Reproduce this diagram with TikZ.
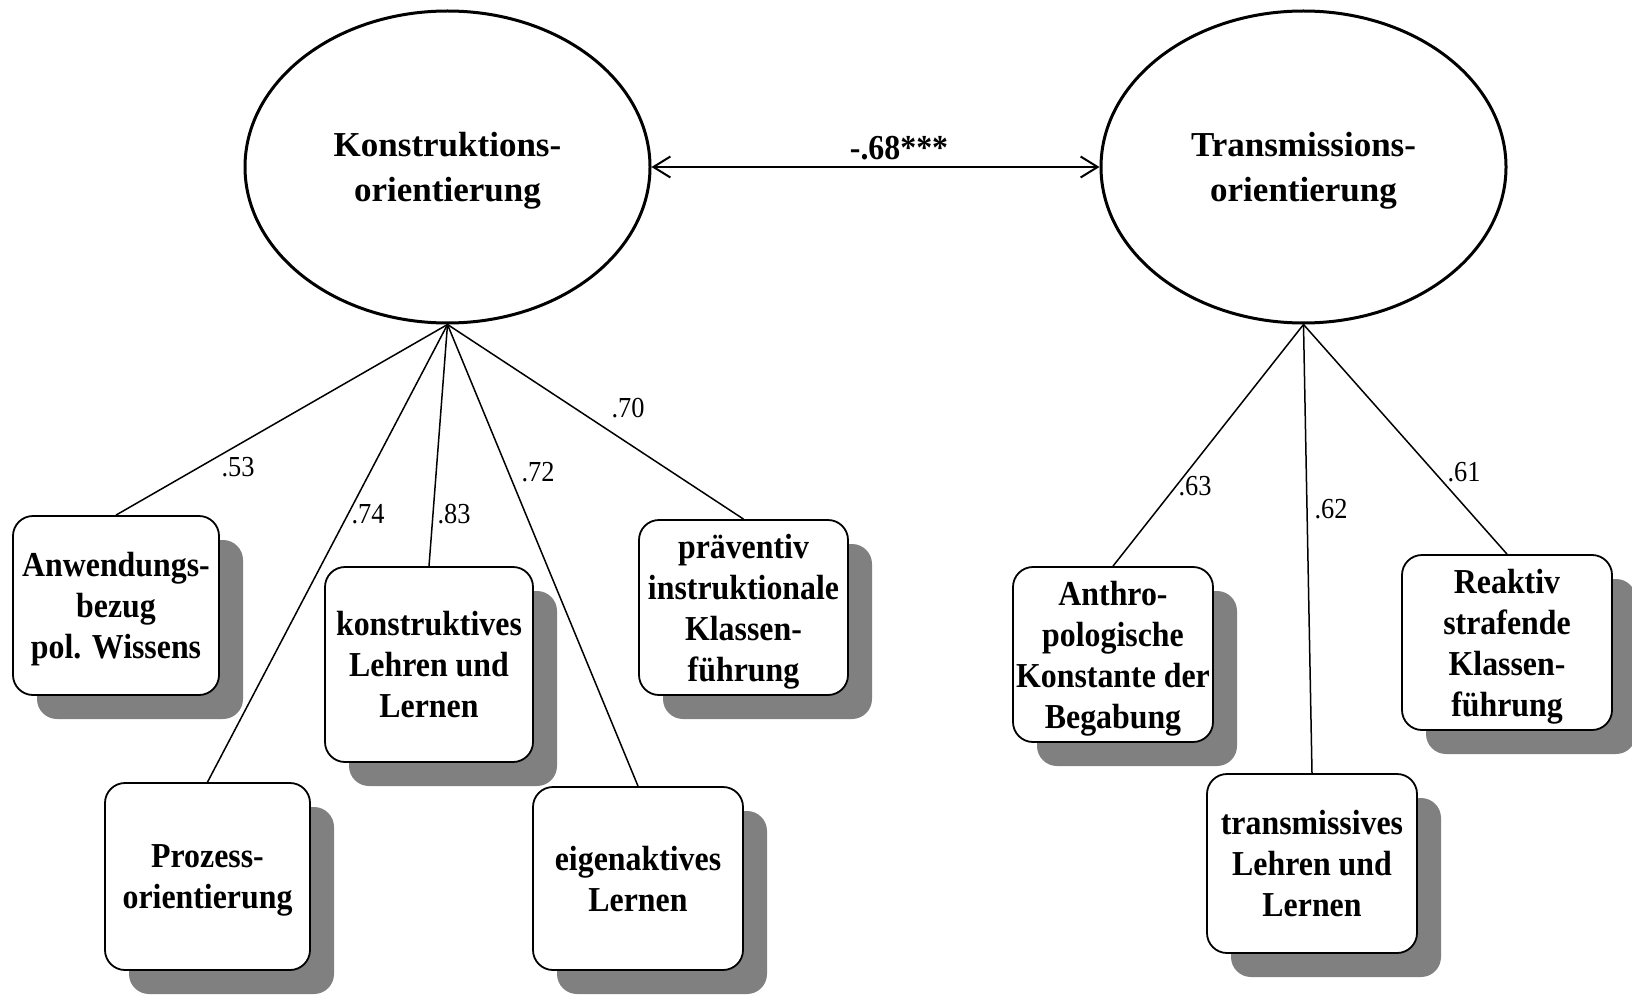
\documentclass[tikz,border=0pt]{standalone}
\usepackage{fontspec}
\setmainfont{Liberation Serif}[FakeStretch=0.91]
\newfontfamily\latentfont{Liberation Serif}
\usetikzlibrary{shapes.geometric,shadows,arrows.meta}
\definecolor{shadowgray}{RGB}{128,128,128}

\begin{document}
\begin{tikzpicture}[x=1pt,y=-1pt,
  latent/.style={ellipse, draw, line width=3pt, minimum width=405pt,
    minimum height=312pt, inner sep=0pt, align=center, text depth=-2pt,
    font=\latentfont\bfseries\fontsize{35}{45}\selectfont},
  indicator/.style={draw, line width=1.8pt, rounded corners=20pt, fill=white,
    align=center, inner sep=2pt, text depth=0pt,
    font=\bfseries\fontsize{35}{41}\selectfont,
    drop shadow={shadow xshift=24pt, shadow yshift=-24pt, fill=shadowgray, opacity=1}},
  loading/.style={line width=1.5pt},
  coef/.style={font=\fontsize{29}{30}\selectfont, inner sep=0pt},
  corr/.style={line width=2pt, {Straight Barb[length=17pt,width=21pt]}-{Straight Barb[length=17pt,width=21pt]}},
]
\useasboundingbox (0,0) rectangle (1632,995);

% latent factors
\node[latent] (K) at (447.5,167) {Konstruktions-\\orientierung};
\node[latent] (T) at (1303.5,167) {Transmissions-\\orientierung};

% correlation between the factors
\draw[corr] (K.east) -- (T.west);
\node[font=\bfseries\fontsize{35}{36}\selectfont, inner sep=0pt] (r) at (899,148) {-.68***};

% indicators of the constructivist factor
\node[indicator, minimum width=206pt, minimum height=179pt] (a1) at (116,605.5) {Anwendungs-\\bezug\\pol. Wissens};
\node[indicator, minimum width=205pt, minimum height=187pt] (a2) at (207.5,876.5) {Prozess-\\orientierung};
\node[indicator, minimum width=208pt, minimum height=195pt] (a3) at (429,664.5) {konstruktives\\Lehren und\\Lernen};
\node[indicator, minimum width=210pt, minimum height=183pt] (a4) at (638,878.5) {eigenaktives\\Lernen};
\node[indicator, minimum width=209pt, minimum height=175pt] (a5) at (743.5,607.5) {präventiv\\instruktionale\\Klassen-\\führung};

% indicators of the transmissive factor
\node[indicator, minimum width=200pt, minimum height=175pt] (b1) at (1113,654.5) {Anthro-\\pologische\\Konstante der\\Begabung};
\node[indicator, minimum width=210pt, minimum height=179pt] (b2) at (1312,863.5) {transmissives\\Lehren und\\Lernen};
\node[indicator, minimum width=210pt, minimum height=175pt] (b3) at (1507,642.5) {Reaktiv\\strafende\\Klassen-\\führung};

% factor loadings
\draw[loading] (K.south) -- (a1.north);
\draw[loading] (K.south) -- (a2.north);
\draw[loading] (K.south) -- (a3.north);
\draw[loading] (K.south) -- (a4.north);
\draw[loading] (K.south) -- (a5.north);
\draw[loading] (T.south) -- (b1.north);
\draw[loading] (T.south) -- (b2.north);
\draw[loading] (T.south) -- (b3.north);

\node[coef] (l1) at (238,467) {.53};
\node[coef] (l2) at (368,514) {.74};
\node[coef] (l3) at (454,514) {.83};
\node[coef] (l4) at (538,472) {.72};
\node[coef] (l5) at (628,408) {.70};
\node[coef] (m1) at (1195,486) {.63};
\node[coef] (m2) at (1331,509) {.62};
\node[coef] (m3) at (1464,472) {.61};
\end{tikzpicture}
\end{document}
